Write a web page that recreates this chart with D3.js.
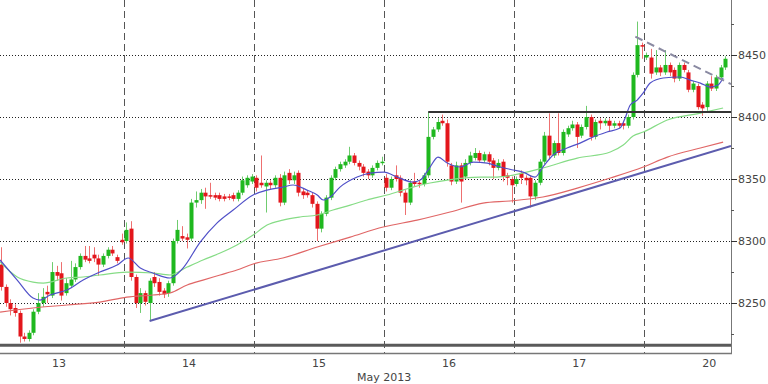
<!DOCTYPE html>
<html><head><meta charset="utf-8">
<script src="https://cdn.jsdelivr.net/npm/d3@7"></script>
<style>body{margin:0;background:#fff;} svg{display:block;}</style>
</head><body>
<svg id="chart" width="768" height="384"></svg>
<script>
// ---------------- DATA ----------------
const dayLabels = ["13","14","15","16","17","20"];
const monthLabel = "May 2013";
const barsPerDay = 28;           // 30-minute bars per session
// each bar: [open, high, low, close]
const day13 = [
[8298,8300,8282,8284],[8281,8295,8260,8263],[8263,8265,8247,8250],[8250,8253,8240,8245],
[8246,8249,8239,8242],[8242,8244,8218,8223],[8223,8226,8219,8221],[8221,8228,8219,8226],
[8226,8245,8224,8243],[8243,8258,8241,8250],[8250,8262,8247,8255],[8259,8264,8250,8257],
[8256,8283,8254,8275],[8275,8280,8268,8272],[8274,8283,8252,8256],[8258,8270,8256,8266],
[8264,8284,8262,8269],[8269,8282,8267,8279],[8279,8290,8277,8288],[8288,8296,8283,8285],
[8286,8296,8282,8284],[8289,8295,8283,8286],[8286,8289,8272,8281],[8281,8290,8279,8288],
[8288,8295,8286,8293],[8293,8296,8288,8290],[8287,8289,8282,8284],[8301,8306,8297,8299]];
const day14 = [
[8300,8315,8298,8309],[8310,8316,8268,8271],[8271,8273,8246,8250],[8250,8262,8242,8258],
[8258,8260,8248,8251],[8250,8270,8235.5,8268],[8271,8275,8263,8266],[8267,8270,8256,8259],
[8260,8262,8254,8257],[8258,8268,8255,8266],[8266,8302,8264,8300],[8300,8317,8298,8309],
[8304,8312,8300,8302],[8303,8306,8294,8301],[8302,8334,8300,8331],[8331,8340,8327,8333],
[8333,8342,8330,8339],[8339,8343,8326,8336],[8337,8347,8334,8336],[8337,8339,8333,8335],
[8337,8339,8332,8334],[8336,8338,8332,8334],[8336,8338,8333,8335],[8337,8339,8332,8334],
[8334,8341,8332,8339],[8339,8352,8337,8349],[8345,8353,8343,8351],[8348,8354,8346,8352]];
const day15 = [
[8351,8353,8340,8343],[8347,8369,8343,8345],[8344,8349,8323,8347],[8347,8349,8342,8345],
[8345,8353,8343,8351],[8351,8354,8328,8331],[8331,8356,8329,8353],[8355,8358,8346,8349],
[8349,8356,8346,8353],[8355,8357,8336,8339],[8340,8342,8334,8337],[8339,8341,8335,8337],
[8337,8339,8327,8330],[8330,8332,8300,8310],[8310,8324,8307,8322],[8322,8337,8320,8335],
[8335,8353,8333,8351],[8351,8360,8349,8358],[8358,8364,8356,8362],[8361,8366,8359,8364],
[8364,8376,8362,8369],[8369,8371,8361,8363],[8363,8365,8357,8360],[8360,8362,8352,8355],
[8356,8358,8350,8353],[8353,8361,8351,8359],[8359,8365,8357,8363],[8363,8368,8361,8364]];
const day16 = [
[8351,8354,8340,8343],[8343,8352,8341,8350],[8353,8361,8348,8350],[8351,8353,8336,8339],
[8339,8341,8321,8331],[8331,8349,8329,8347],[8348,8355,8344,8346],[8347,8349,8343,8346],
[8346,8355,8344,8353],[8353,8404,8351,8384],[8384,8392,8382,8390],[8390,8399,8388,8396],
[8397,8402,8393,8395],[8395,8398,8360,8364],[8361,8363,8345,8348],[8348,8364,8346,8361],
[8361,8363,8331,8348],[8352,8366,8350,8363],[8363,8372,8361,8369],[8367,8375,8365,8371],
[8371,8373,8363,8365],[8365,8372,8363,8370],[8370,8372,8361,8364],[8365,8367,8350,8359],
[8359,8366,8357,8363],[8364,8366,8348,8352],[8353,8355,8345,8351],[8350,8352,8331,8345]];
const day17 = [
[8346,8352,8344,8350],[8355,8357,8346,8351],[8351,8353,8345,8349],[8351,8353,8327,8336],
[8336,8349,8333,8347],[8347,8366,8345,8364],[8364,8388,8362,8385],[8385,8403,8366,8369],
[8369,8381,8367,8379],[8379,8403,8369,8371],[8371,8390,8369,8388],[8386,8393,8384,8391],
[8391,8397,8389,8394],[8394,8396,8375,8384],[8385,8394,8383,8392],[8392,8409,8390,8400],
[8400,8402,8381,8384],[8384,8398,8382,8396],[8397,8399,8390,8395],[8395,8399,8393,8397],
[8397,8399,8388,8393],[8393,8397,8391,8395],[8395,8397,8391,8393],[8395,8397,8390,8393],
[8393,8402,8391,8400],[8400,8436,8398,8434],[8434,8477,8432,8458],[8458,8460,8447,8457]];
const day20 = [
[8448,8452,8446,8450],[8448,8455,8431,8435],[8436,8454,8434,8440],[8440,8442,8433,8436],
[8436,8454,8434,8442],[8442,8444,8433,8436],[8438,8440,8428,8431],[8431,8444,8429,8442],
[8442,8444,8436,8438],[8436,8438,8420,8422],[8422,8429,8420,8427],[8425,8427,8406,8408],
[8410,8412,8401,8407],[8408,8429,8405,8427],[8427,8433,8421,8423],[8423,8434,8421,8432],
[8432,8442,8430,8440],[8440,8449,8438,8447]];

// moving averages: [bar index, value]
const maFast = [[1.3,8284.7],[5,8268.5],[8.4,8254],[9.9,8252.4],[12.1,8256.5],[15.7,8260.5],[19.2,8268.5],
[22.8,8275],[26.5,8280.6],[28.9,8286.3],[31.5,8278.2],[34.2,8274.2],[37.9,8270.2],[40.7,8278.2],[44.4,8299.2],
[48,8314.5],[51.5,8325],[55.8,8337.1],[58.8,8341.1],[62.2,8343.5],[64.4,8345.2],[67.4,8341.1],[69.6,8337.1],
[70.9,8333.1],[72.4,8335.5],[74.5,8343.5],[78.2,8351.6],[81,8354.8],[84,8355.6],[86.8,8351.6],[90.2,8347.6],
[91.8,8349.2],[93.9,8359.7],[95.6,8367.7],[97.6,8362.9],[100.4,8359.7],[103.2,8363.7],[106.2,8362.9],
[109,8359.7],[111.8,8357.3],[113.9,8355.6],[116.5,8351.6],[118.2,8359.7],[120.4,8369.4],[123.4,8375],
[126.2,8379],[129,8383.9],[132,8387.9],[134.8,8391.1],[135.9,8399.2],[137,8409.7],[138.5,8413.7],
[139.8,8419.4],[141.3,8427.4],[144.1,8431.5],[147.8,8432.3],[149.9,8429.8],[152.1,8427.4],[154.2,8424.2],
[155.9,8425.8],[157,8431.5]];
const maMid = [[1.3,8283.1],[5,8271],[8.4,8266.9],[10.6,8266.1],[15.7,8270.2],[19.2,8271],[22.8,8272.6],
[28.6,8275],[34.2,8274.2],[37.9,8272.6],[41.6,8279],[45,8284.7],[48.7,8290.3],[52.3,8296.8],[55.8,8304.8],
[58.8,8312.9],[62.2,8316.9],[65.9,8319.4],[69.6,8321],[73,8325],[76.7,8329],[80.3,8333.1],[84.6,8337.1],
[90.2,8343.5],[93.9,8346.8],[97.6,8349.2],[101,8350.8],[104.7,8351.6],[108.3,8351.6],[111.8,8353.2],
[118.2,8358.9],[125.6,8366.9],[132.7,8371.8],[135.5,8377.4],[137.6,8384.7],[139.8,8387.9],[145,8397.6],
[152.1,8403.2],[157,8407.3]];
const maSlow = [[1.3,8242.7],[8.4,8246],[15.7,8248.4],[22.8,8250.8],[28.6,8254.8],[34.2,8256.5],[37.9,8258.1],
[41.6,8264.5],[45,8268.5],[48.7,8272.6],[52.3,8276.6],[55.8,8281.5],[62.2,8286.3],[69.6,8295.2],[76.7,8303.2],
[83.8,8311.3],[91.1,8316.9],[98.2,8323.4],[105.3,8330.6],[111.1,8332.3],[118.2,8335.5],[125.6,8342.7],
[132.7,8350.8],[139.8,8359.7],[145,8367.7],[152.1,8375],[157,8379.8]];

// drawn objects: [bar index, value]
const trendUp = [[33.5,8235.5],[158.7,8376.6]];
const trendDown = [[138.1,8464.8],[158.7,8426.6]];
const resistance = [[93.5,8404],[158.7,8404]];
const supportLevel = 8216;

const yMajor = [8250,8300,8350,8400,8450];
const yMinor = [8225,8275,8325,8375,8425,8475];

// ---------------- LAYOUT ----------------
const plotL = 0, plotR = 731, plotT = 0, plotB = 353;
const svg = d3.select("#chart");
const days = [day13, day14, day15, day16, day17, day20];
const bars = days.flatMap((d, di) => d.map((c, j) => ({
  i: di * barsPerDay + j, o: c[0], h: c[1], l: c[2], c: c[3]})));

const x = d3.scaleLinear().domain([0, 158.7]).range([-6, plotR]);
const y = d3.scaleLinear().domain([8209.7, 8494.4]).range([plotB, plotT]);

svg.append("defs").append("clipPath").attr("id","clip")
  .append("rect").attr("x",plotL).attr("y",plotT).attr("width",plotR-plotL).attr("height",plotB-plotT);

const g = svg.append("g").attr("clip-path","url(#clip)");

// horizontal dotted grid
g.selectAll("line.hg").data(yMajor).join("line")
  .attr("x1",plotL).attr("x2",plotR)
  .attr("y1",d=>Math.round(y(d))+0.5).attr("y2",d=>Math.round(y(d))+0.5)
  .attr("stroke","#222").attr("stroke-width",1).attr("stroke-dasharray","1,2");

// day separators
const dayStarts = d3.range(1, days.length).map(k => k * barsPerDay);
g.selectAll("line.vg").data(dayStarts).join("line")
  .attr("x1",d=>Math.round(x(d))+0.5).attr("x2",d=>Math.round(x(d))+0.5)
  .attr("y1",plotT).attr("y2",plotB)
  .attr("stroke","#555").attr("stroke-width",1).attr("stroke-dasharray","7,4");

// support line
g.append("line").attr("x1",plotL).attr("x2",plotR)
  .attr("y1",y(supportLevel)).attr("y2",y(supportLevel))
  .attr("stroke","#5a5a5a").attr("stroke-width",3);

// candles
const bw = 4;
const cg = g.append("g");
cg.selectAll("line.wick").data(bars).join("line")
  .attr("x1",d=>Math.round(x(d.i+0.5))+0.5).attr("x2",d=>Math.round(x(d.i+0.5))+0.5)
  .attr("y1",d=>y(d.h)).attr("y2",d=>y(d.l))
  .attr("stroke",d=>d.c>=d.o?"#6fcc6f":"#ee7070").attr("stroke-width",1);
cg.selectAll("rect.body").data(bars).join("rect")
  .attr("x",d=>Math.round(x(d.i+0.5)) - bw/2 + 0.5)
  .attr("width",bw)
  .attr("y",d=>y(Math.max(d.o,d.c)))
  .attr("height",d=>Math.max(1.5, Math.abs(y(d.o)-y(d.c))))
  .attr("fill",d=>d.c>=d.o?"#1fb81f":"#e3161c");

// moving averages
const line = d3.line().x(d=>x(d[0])).y(d=>y(d[1])).curve(d3.curveMonotoneX);
g.append("path").datum(maSlow).attr("d",line).attr("fill","none").attr("stroke","#e06666").attr("stroke-width",1.2);
g.append("path").datum(maMid).attr("d",line).attr("fill","none").attr("stroke","#86dc86").attr("stroke-width",1.2);
g.append("path").datum(maFast).attr("d",line).attr("fill","none").attr("stroke","#5050c8").attr("stroke-width",1.2);

// drawn objects
const straight = d3.line().x(d=>x(d[0])).y(d=>y(d[1]));
g.append("path").datum(trendUp).attr("d",straight).attr("stroke","#5c5cae").attr("stroke-width",2).attr("fill","none");
g.append("path").datum(trendDown).attr("d",straight).attr("stroke","#8a8aa2").attr("stroke-width",2)
  .attr("stroke-dasharray","8,5").attr("fill","none");
g.append("path").datum(resistance).attr("d",straight).attr("stroke","#333").attr("stroke-width",2).attr("fill","none");

// axes frame
svg.append("line").attr("x1",plotR+0.5).attr("x2",plotR+0.5).attr("y1",plotT).attr("y2",plotB)
  .attr("stroke","#777").attr("stroke-width",1);
svg.append("line").attr("x1",plotL).attr("x2",plotR+1).attr("y1",plotB+0.5).attr("y2",plotB+0.5)
  .attr("stroke","#777").attr("stroke-width",1.5);

// right axis ticks/labels
svg.selectAll("line.maj").data(yMajor).join("line")
  .attr("x1",plotR).attr("x2",plotR+6)
  .attr("y1",d=>Math.round(y(d))+0.5).attr("y2",d=>Math.round(y(d))+0.5)
  .attr("stroke","#333");
svg.selectAll("line.min").data(yMinor).join("line")
  .attr("x1",plotR).attr("x2",plotR+3)
  .attr("y1",d=>Math.round(y(d))+0.5).attr("y2",d=>Math.round(y(d))+0.5)
  .attr("stroke","#555");
svg.selectAll("text.yl").data(yMajor).join("text")
  .attr("x",plotR+7).attr("y",d=>y(d)).attr("dy","0.36em")
  .attr("font-family","DejaVu Sans, sans-serif").attr("font-size",11).attr("fill","#444")
  .text(d=>d);

// day labels
svg.selectAll("text.dl").data(dayLabels).join("text")
  .attr("x",(d,k)=>x(k*barsPerDay + barsPerDay/2)).attr("y",367)
  .attr("text-anchor","middle")
  .attr("font-family","DejaVu Sans, sans-serif").attr("font-size",11).attr("fill","#444")
  .text(d=>d);
svg.append("text").attr("x",x(3*barsPerDay)).attr("y",381).attr("text-anchor","middle")
  .attr("font-family","DejaVu Sans, sans-serif").attr("font-size",11).attr("fill","#444")
  .text(monthLabel);
</script>
</body></html>
